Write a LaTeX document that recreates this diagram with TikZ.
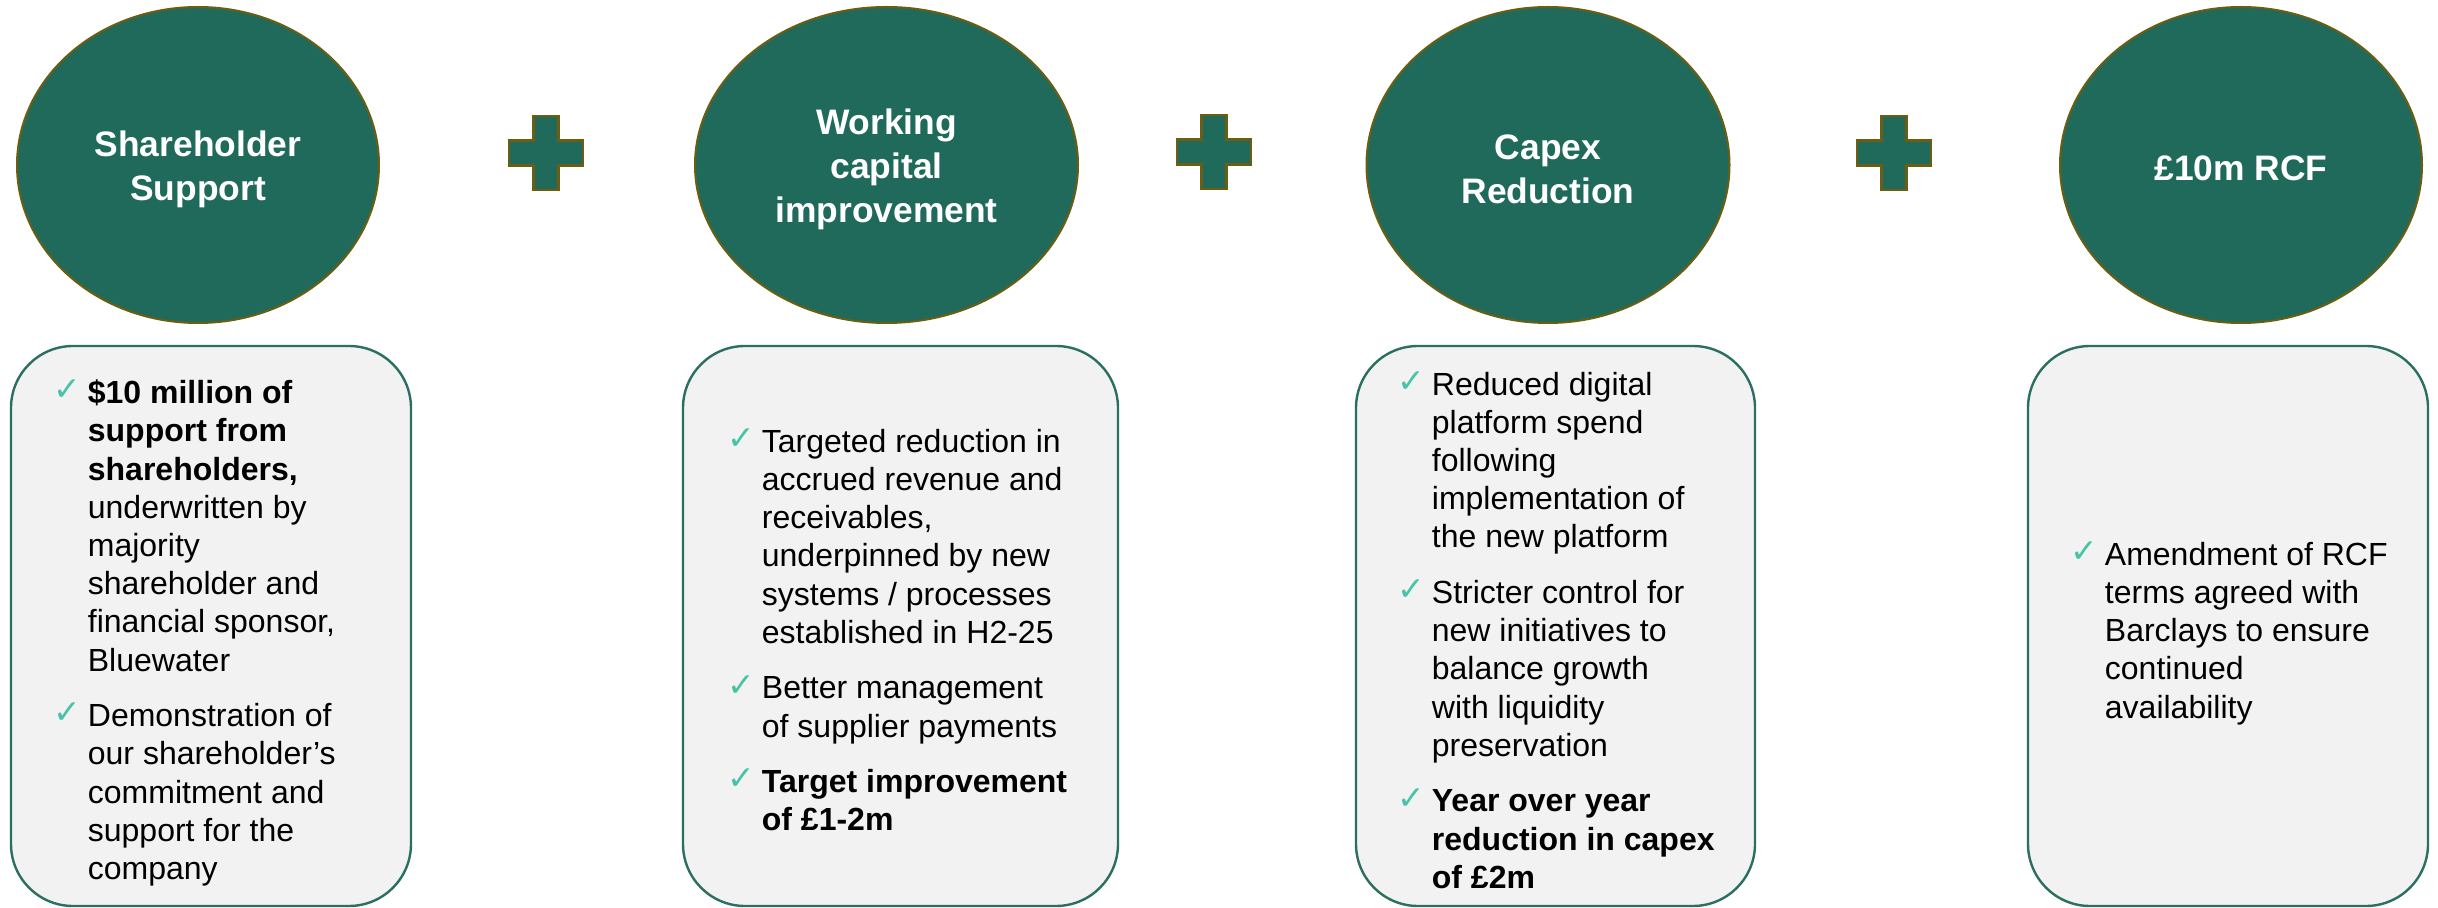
\documentclass[tikz,border=0pt]{standalone}
\usepackage{fontspec}
\setmainfont{Liberation Sans}
\newfontfamily\symfont{DejaVu Sans}
\usetikzlibrary{shapes.geometric}

\definecolor{discfill}{HTML}{1F6A5B}
\definecolor{discedge}{HTML}{6B5E12}
\definecolor{panelfill}{HTML}{F2F2F2}
\definecolor{paneledge}{HTML}{2B6F61}
\definecolor{tickgreen}{HTML}{45C4A6}

% check-mark bullet, fixed width column
\newcommand\tick{\makebox[17.25pt][l]{\raisebox{1.4pt}{\fontsize{16.5}{16.5}\symfont\color{tickgreen}✓}}}

\tikzset{
  disc/.style={ellipse, fill=discfill, draw=discedge, line width=1pt, inner sep=0pt},
  heading/.style={text=white, align=center, inner sep=0pt,
    font=\fontsize{17.7}{22}\selectfont\bfseries},
  panel/.style={draw=paneledge, fill=panelfill, line width=1.2pt,
    rounded corners=31pt, inner sep=0pt},
  bullets/.style={anchor=west, inner sep=0pt, text=black,
    font=\fontsize{16}{19.1}\selectfont},
  plusmark/.pic={
    \draw[fill=discfill, draw=discedge, line width=1.35pt]
      (-12.5,-37) -- (12.5,-37) -- (12.5,-12.5) -- (37,-12.5) -- (37,12.5)
      -- (12.5,12.5) -- (12.5,37) -- (-12.5,37) -- (-12.5,12.5)
      -- (-37,12.5) -- (-37,-12.5) -- (-12.5,-12.5) -- cycle;
  }
}

\begin{document}
\begin{tikzpicture}[x=0.5pt, y=-0.5pt]
\useasboundingbox (0,0) rectangle (2438,908);

% headline discs
\node[disc, minimum width=181pt, minimum height=158pt] (e1) at (198,165) {};
\node[disc, minimum width=191.5pt, minimum height=158pt] (e2) at (886.5,165) {};
\node[disc, minimum width=181.5pt, minimum height=158pt] (e3) at (1548,165) {};
\node[disc, minimum width=181pt, minimum height=158pt] (e4) at (2241,165) {};

\node[heading] (h1) at (198,169) {Shareholder\\Support};
\node[heading] (h2) at (886.5,169) {Working\\capital\\improvement};
\node[heading] (h3) at (1548,169) {Capex\\Reduction};
\node[heading] (h4) at (2241,168) {£10m RCF};

% plus signs between the discs
\pic at (546,153) {plusmark};
\pic at (1214,152) {plusmark};
\pic at (1894,153) {plusmark};

% detail panels
\node[panel, minimum width=200pt, minimum height=280pt] (p1) at (211,626) {};
\node[panel, minimum width=217.5pt, minimum height=280pt] (p2) at (900.5,626) {};
\node[panel, minimum width=199.5pt, minimum height=280pt] (p3) at (1555.5,626) {};
\node[panel, minimum width=200pt, minimum height=280pt] (p4) at (2228,626) {};

\node[bullets] (t1) at (53,634) {\begin{tabular}{@{}l@{}l@{}}
\tick & \textbf{\$10 million of}\\
 & \textbf{support from}\\
 & \textbf{shareholders,}\\
 & underwritten by\\
 & majority\\
 & shareholder and\\
 & financial sponsor,\\
 & Bluewater\\[8.7pt]
\tick & Demonstration of\\
 & our shareholder’s\\
 & commitment and\\
 & support for the\\
 & company
\end{tabular}};

\node[bullets] (t2) at (727,634) {\begin{tabular}{@{}l@{}l@{}}
\tick & Targeted reduction in\\
 & accrued revenue and\\
 & receivables,\\
 & underpinned by new\\
 & systems / processes\\
 & established in H2-25\\[8.7pt]
\tick & Better management\\
 & of supplier payments\\[8.7pt]
\tick & \textbf{Target improvement}\\
 & \textbf{of £1-2m}
\end{tabular}};

\node[bullets] (t3) at (1397,634) {\begin{tabular}{@{}l@{}l@{}}
\tick & Reduced digital\\
 & platform spend\\
 & following\\
 & implementation of\\
 & the new platform\\[8.7pt]
\tick & Stricter control for\\
 & new initiatives to\\
 & balance growth\\
 & with liquidity\\
 & preservation\\[8.7pt]
\tick & \textbf{Year over year}\\
 & \textbf{reduction in capex}\\
 & \textbf{of £2m}
\end{tabular}};

\node[bullets] (t4) at (2070,634) {\begin{tabular}{@{}l@{}l@{}}
\tick & Amendment of RCF\\
 & terms agreed with\\
 & Barclays to ensure\\
 & continued\\
 & availability
\end{tabular}};
\end{tikzpicture}
\end{document}
